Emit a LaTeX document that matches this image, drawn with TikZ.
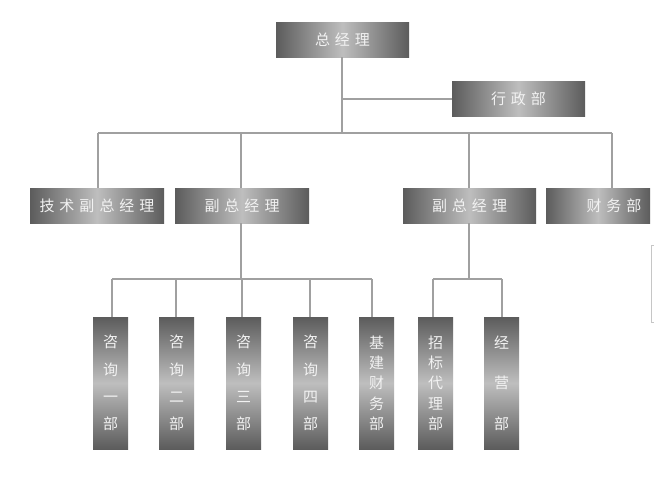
\documentclass[tikz,border=0pt]{standalone}
\usepackage{fontspec}
\newfontfamily\cjk{Noto Sans CJK SC}
\definecolor{boxdark}{HTML}{5C5C5C}
\definecolor{boxlight}{HTML}{BEBEBE}
\definecolor{txt}{HTML}{F2F2F2}
\definecolor{wire}{HTML}{A0A0A0}
\newcommand\gp{\hspace{5pt}}
\begin{document}
\begin{tikzpicture}[x=1pt,y=-1pt,
  hbox/.style={rectangle,inner sep=0pt,minimum width=133pt,minimum height=35pt,
    left color=boxdark,right color=boxdark,middle color=boxlight,
    text=txt,font=\cjk\fontsize{15}{18}\selectfont},
  vbox/.style={rectangle,inner sep=0pt,minimum width=35pt,minimum height=132pt,
    top color=boxdark,bottom color=boxdark,middle color=boxlight,
    text=txt,align=center},
  lbl/.style={text=txt,font=\cjk\fontsize{15}{18}\selectfont,inner sep=0pt},
  wirel/.style={draw=wire,line width=1.4pt}]
\useasboundingbox (0,0) rectangle (654,477);
\fill[white] (0,0) rectangle (654,477);
% level 0/1
\node[hbox] (top) at (342.5,39.5) {总\gp 经\gp 理};
\node[hbox] (xz) at (518.5,98.5) {行\gp 政\gp 部};
\node[hbox,minimum width=134pt] (js) at (97,205.5) {技\gp 术\gp 副\gp 总\gp 经\gp 理};
\node[hbox,minimum width=134pt] (f1) at (242,205.5) {副\gp 总\gp 经\gp 理};
\node[hbox] (f2) at (469.5,205.5) {副\gp 总\gp 经\gp 理};
\node[hbox,minimum width=104pt] (cw) at (598,205.5) {};
\node[lbl] (cwt) at (614,205.5) {财\gp 务\gp 部};
% vertical boxes
\node[vbox,font=\cjk\fontsize{15}{27.3}\selectfont] (c1) at (110.5,383) {咨\\询\\一\\部};
\node[vbox,font=\cjk\fontsize{15}{27.3}\selectfont] (c2) at (176.5,383) {咨\\询\\二\\部};
\node[vbox,font=\cjk\fontsize{15}{27.3}\selectfont] (c3) at (243.5,383) {咨\\询\\三\\部};
\node[vbox,font=\cjk\fontsize{15}{27.3}\selectfont] (c4) at (310.5,383) {咨\\询\\四\\部};
\node[vbox,font=\cjk\fontsize{15}{20.3}\selectfont] (jj) at (376.5,383) {基\\建\\财\\务\\部};
\node[vbox,font=\cjk\fontsize{15}{20.3}\selectfont] (zb) at (435.5,383) {招\\标\\代\\理\\部};
\node[vbox,font=\cjk\fontsize{15}{40.5}\selectfont] (jy) at (501.5,383) {经\\营\\部};
% bus coordinates
\coordinate (t1) at (342,133);
\coordinate (tx) at (342,99);
\coordinate (bl) at (98,133);
\coordinate (br) at (612,133);
\coordinate (bf1) at (241,133);
\coordinate (bf2) at (469,133);
\coordinate (m1) at (241,279);
\coordinate (m1l) at (112,279);
\coordinate (m1r) at (372,279);
\coordinate (d2) at (176,279);
\coordinate (d3) at (242,279);
\coordinate (d4) at (310,279);
\coordinate (m2) at (469,279);
\coordinate (m2l) at (433,279);
\coordinate (m2r) at (502,279);
% connectors
\draw[wirel] (top.south -| t1) -- (t1);
\draw[wirel] (tx) -- (xz.west |- tx);
\draw[wirel] (bl) -- (br);
\draw[wirel] (bl) -- (bl |- js.north);
\draw[wirel] (bf1) -- (bf1 |- f1.north);
\draw[wirel] (bf2) -- (bf2 |- f2.north);
\draw[wirel] (br) -- (br |- cw.north);
\draw[wirel] (f1.south -| m1) -- (m1);
\draw[wirel] (m1l) -- (m1r);
\draw[wirel] (m1l) -- (m1l |- c1.north);
\draw[wirel] (d2) -- (d2 |- c2.north);
\draw[wirel] (d3) -- (d3 |- c3.north);
\draw[wirel] (d4) -- (d4 |- c4.north);
\draw[wirel] (m1r) -- (m1r |- jj.north);
\draw[wirel] (f2.south -| m2) -- (m2);
\draw[wirel] (m2l) -- (m2r);
\draw[wirel] (m2l) -- (m2l |- zb.north);
\draw[wirel] (m2r) -- (m2r |- jy.north);
% faint edge mark at right
\draw[gray!45,line width=0.8pt] (654,245) -- (651,245) -- (651,322) -- (654,322);
\end{tikzpicture}
\end{document}
